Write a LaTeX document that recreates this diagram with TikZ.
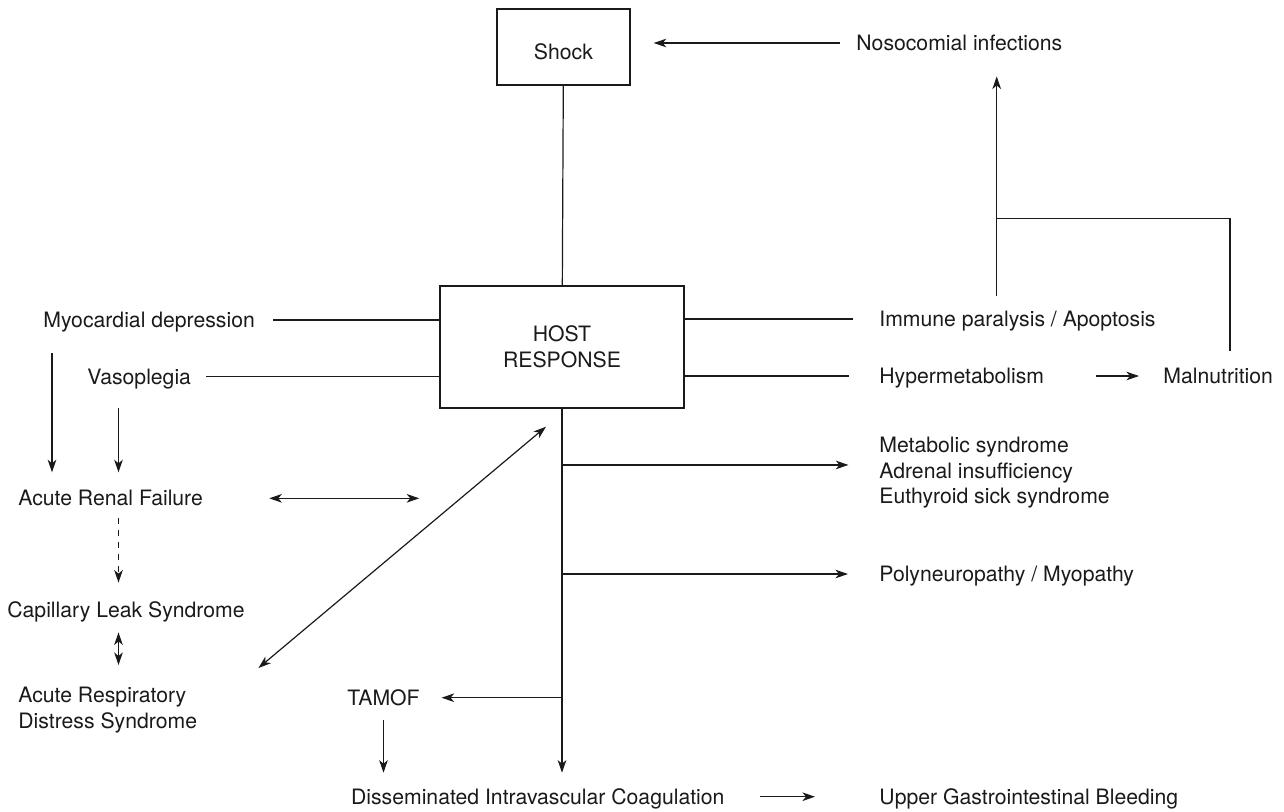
\documentclass[tikz,border=0pt]{standalone}
\usepackage{fontspec}
\setmainfont{TeX Gyre Heros}
\usepackage{tikz}
\usetikzlibrary{arrows.meta}
\usepackage{xcolor}
\definecolor{Ink}{HTML}{1A1A1A}

\begin{document}
\begin{tikzpicture}[x=0.5pt,y=-0.5pt,>={Stealth[length=6.3pt,width=4.3pt,inset=1.8pt]},
  lbl/.style={anchor=west,inner sep=0pt,text height=7.6pt,text depth=0pt,font=\fontsize{10.6}{12.75}\selectfont,text=Ink},
  blk/.style={anchor=north west,inner sep=0pt,align=left,font=\fontsize{10.6}{12.75}\selectfont,text=Ink},
  box/.style={draw=Ink,line width=0.7pt,inner sep=0pt,align=center,font=\fontsize{10.6}{12.75}\selectfont,text=Ink},
  link/.style={draw=Ink,line width=0.6pt},
  arr/.style={link,->},
  dbl/.style={link,<->}]
\useasboundingbox (0,0) rectangle (1284,811);
% boxes
\node[box,minimum width=66.5pt,minimum height=38pt,text height=12.6pt,text depth=0pt] (shock) at (563.5,47) {Shock};
\node[box,minimum width=122pt,minimum height=61pt] (host) at (562,347) {HOST\\RESPONSE};
% labels
\node[lbl] (noso) at (856,43) {Nosocomial infections};
\node[lbl] (myo) at (43,320) {Myocardial depression};
\node[lbl] (vaso) at (87,376.7) {Vasoplegia};
\node[lbl] (immune) at (879,319) {Immune paralysis / Apoptosis};
\node[lbl] (hyper) at (879,376) {Hypermetabolism};
\node[lbl] (malnu) at (1163,376) {Malnutrition};
\node[lbl] (arf) at (18,498.3) {Acute Renal Failure};
\node[lbl] (cls) at (7,610) {Capillary Leak Syndrome};
\node[blk] (ards) at (18,687) {Acute Respiratory\\Distress Syndrome};
\node[blk] (meta) at (879,437) {Metabolic syndrome\\Adrenal insufficiency\\Euthyroid sick syndrome};
\node[lbl] (poly) at (879,574) {Polyneuropathy / Myopathy};
\node[lbl] (tamof) at (347,697.7) {TAMOF};
\node[lbl] (dic) at (350.7,796.7) {Disseminated Intravascular Coagulation};
\node[lbl] (ugb) at (879,796.7) {Upper Gastrointestinal Bleeding};
% helper points
\coordinate (join) at (996.7,218.3);
\coordinate (corner) at (1230,218.3);
\coordinate (colA) at (52,0);
\coordinate (colB) at (118.5,0);
% top
\draw[link] (shock) -- (host);
\draw[arr,shorten <=8pt,shorten >=11.5pt] (noso.west) -- (noso.west -| shock.east);
\draw[arr,shorten <=7.7pt,shorten >=12.7pt] (immune.north -| join) -- (noso.south -| join);
\draw[link,shorten <=8.4pt] (malnu.north -| corner) -- (corner) -- (join);
% left and right of host
\draw[link,shorten <=9pt] (myo.east) -- (myo.east -| host.west);
\draw[link,shorten <=7.5pt] (vaso.east) -- (vaso.east -| host.west);
\draw[link,shorten >=13pt] (host.east |- immune.west) -- (immune.west);
\draw[link,shorten >=15pt] (host.east |- hyper.west) -- (hyper.west);
\draw[arr,shorten <=25.5pt,shorten >=12pt] (hyper.east) -- (malnu.west);
% left column
\draw[arr,shorten <=12.7pt,shorten >=9pt] (myo.south -| colA) -- (arf.north -| colA);
\draw[arr,shorten <=11.7pt,shorten >=9pt] (vaso.south -| colB) -- (arf.north -| colB);
\draw[arr,dashed,shorten <=6pt,shorten >=9.7pt] (arf.south -| colB) -- (cls.north -| colB);
\draw[dbl,shorten <=7.2pt,shorten >=11pt] (cls.south -| colB) -- (ards.north -| colB);
\draw[dbl,shorten <=33pt] (arf.east) -- ++(216,0);
\draw[dbl] ([xshift=-8pt,yshift=-9pt]host.south) -- ([xshift=30.5pt,yshift=9.5pt]ards.north east);
% below host
\draw[arr,shorten >=8pt] (host.south) -- (host.south |- dic.north);
\draw[arr,shorten >=15.3pt] ([yshift=4pt]meta.west -| host.south) -- ([yshift=4pt]meta.west);
\draw[arr,shorten >=15.5pt] (poly.west -| host.south) -- (poly.west);
\draw[arr,shorten >=10.8pt] (tamof.east -| host.south) -- (tamof.east);
\draw[arr,shorten <=6.9pt,shorten >=8pt] (tamof.south) -- (tamof.south |- dic.north);
\draw[arr,shorten <=17.5pt,shorten >=32pt] (dic.east) -- (ugb.west);
\end{tikzpicture}
\end{document}
